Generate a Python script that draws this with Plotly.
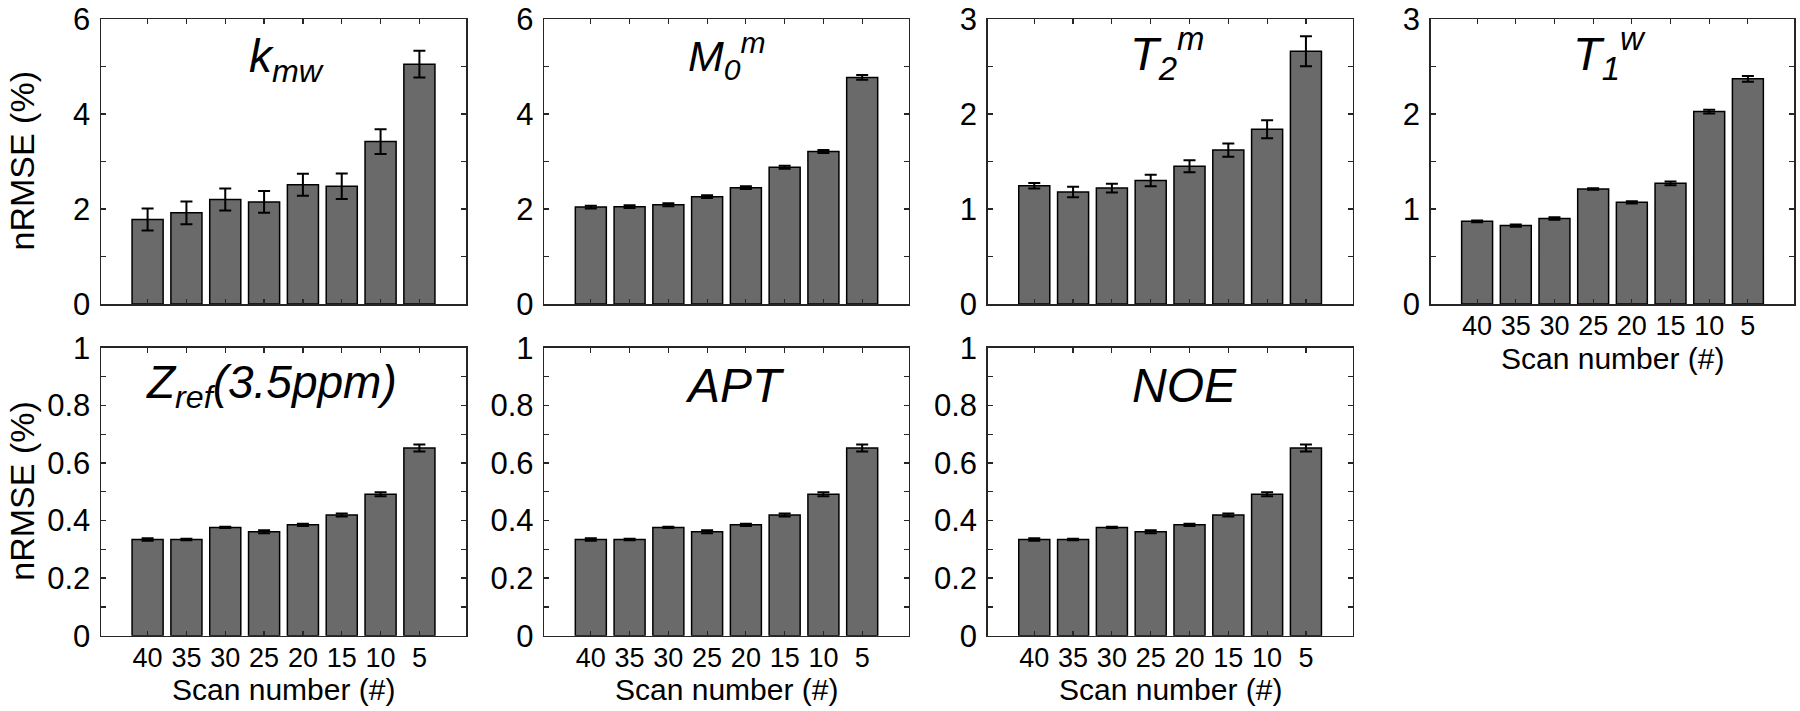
import plotly.graph_objects as go

# ---------------- data ----------------
scan_labels = ["40", "35", "30", "25", "20", "15", "10", "5"]
positions = [1, 2, 3, 4, 5, 6, 7, 8]

kmw = [1.78, 1.92, 2.20, 2.15, 2.51, 2.48, 3.42, 5.05]
kmw_err = [0.23, 0.24, 0.23, 0.23, 0.23, 0.27, 0.26, 0.28]

m0m = [2.04, 2.05, 2.09, 2.26, 2.45, 2.88, 3.21, 4.77]
m0m_err = [0.03, 0.03, 0.03, 0.03, 0.03, 0.03, 0.03, 0.05]

t2m = [1.245, 1.18, 1.22, 1.30, 1.45, 1.62, 1.84, 2.66]
t2m_err = [0.03, 0.055, 0.047, 0.06, 0.062, 0.07, 0.094, 0.158]

t1w = [0.87, 0.826, 0.90, 1.21, 1.07, 1.27, 2.026, 2.37]
t1w_err = [0.01, 0.012, 0.012, 0.008, 0.012, 0.02, 0.02, 0.03]

zref = [0.334, 0.334, 0.376, 0.361, 0.385, 0.419, 0.491, 0.652]
zref_err = [0.004, 0.003, 0.002, 0.005, 0.004, 0.005, 0.007, 0.012]

apt = [0.334, 0.334, 0.376, 0.361, 0.385, 0.419, 0.491, 0.652]
apt_err = [0.004, 0.003, 0.002, 0.005, 0.004, 0.005, 0.007, 0.012]

noe = [0.334, 0.334, 0.376, 0.361, 0.385, 0.419, 0.491, 0.652]
noe_err = [0.004, 0.003, 0.002, 0.005, 0.004, 0.005, 0.007, 0.012]

titles = ["k<sub>mw</sub>", "M<sub>0</sub><sup>m</sup>", "T<sub>2</sub><sup>m</sup>",
          "T<sub>1</sub><sup>w</sup>", "Z<sub>ref</sub>(3.5ppm)", "APT", "NOE"]
y_title = "nRMSE (%)"
x_title = "Scan number (#)"

# ---------------- layout geometry (pixels) ----------------
W, H = 1800, 711
cols = [(101, 466), (544.3, 908.7), (987.7, 1352.5), (1430.7, 1794.3)]
rows = [(19, 304), (347.7, 635.7)]

FONT = "Arial, 'Liberation Sans', Helvetica, sans-serif"
AX = "#262626"

panels = [
    dict(y=kmw, e=kmw_err, col=0, row=0, ymax=6, step=1, lab=2, xlabels=False,
         title=titles[0], tx=286, ty=59, tsize=46),
    dict(y=m0m, e=m0m_err, col=1, row=0, ymax=6, step=1, lab=2, xlabels=False,
         title=titles[1], tx=727, ty=56, tsize=43),
    dict(y=t2m, e=t2m_err, col=2, row=0, ymax=3, step=0.5, lab=1, xlabels=False,
         title=titles[2], tx=1167, ty=53, tsize=47),
    dict(y=t1w, e=t1w_err, col=3, row=0, ymax=3, step=0.5, lab=1, xlabels=True,
         title=titles[3], tx=1609, ty=53, tsize=47),
    dict(y=zref, e=zref_err, col=0, row=1, ymax=1, step=0.1, lab=0.2, xlabels=True,
         title=titles[4], tx=271, ty=385, tsize=46),
    dict(y=apt, e=apt_err, col=1, row=1, ymax=1, step=0.1, lab=0.2, xlabels=True,
         title=titles[5], tx=735, ty=385, tsize=48),
    dict(y=noe, e=noe_err, col=2, row=1, ymax=1, step=0.1, lab=0.2, xlabels=True,
         title=titles[6], tx=1184, ty=385, tsize=48),
]


def fmt(v):
    s = ("%.1f" % v).rstrip("0").rstrip(".")
    return s if s else "0"


fig = go.Figure()
layout = dict(
    width=W, height=H, autosize=False,
    margin=dict(l=0, r=0, t=0, b=0, pad=0, autoexpand=False),
    paper_bgcolor="white", plot_bgcolor="white",
    showlegend=False,
    font=dict(family=FONT, color="black"),
    annotations=[],
)

for i, p in enumerate(panels, start=1):
    sfx = "" if i == 1 else str(i)
    x0, x1 = cols[p["col"]]
    y0, y1 = rows[p["row"]]
    fig.add_trace(go.Bar(
        x=positions, y=p["y"], width=0.8,
        marker=dict(color="#6a6a6a", line=dict(color="black", width=1.5)),
        error_y=dict(type="data", array=p["e"], visible=True,
                     color="black", thickness=2, width=6),
        xaxis="x" + sfx, yaxis="y" + sfx,
        hoverinfo="x+y",
    ))
    n = int(round(p["ymax"] / p["lab"]))
    tv = [round(k * p["lab"], 6) for k in range(n + 1)]
    tt = [fmt(v) for v in tv]
    layout["xaxis" + sfx] = dict(
        domain=[x0 / W, x1 / W], anchor="y" + sfx, automargin=False,
        range=[-0.2, 9.2], tickmode="array", tickvals=positions, ticktext=scan_labels,
        showticklabels=p["xlabels"], ticks="inside", ticklen=5, tickwidth=1.2,
        tickcolor=AX, showline=True, linecolor=AX, linewidth=1.5, mirror="ticks",
        showgrid=False, zeroline=False, tickfont=dict(size=27, family=FONT, color="black"),
        ticklabelstandoff=-3, ticklabeloverflow="allow",
    )
    layout["yaxis" + sfx] = dict(
        domain=[1 - y1 / H, 1 - y0 / H], anchor="x" + sfx, automargin=False,
        range=[0, p["ymax"]], tickmode="array", tickvals=tv, ticktext=tt,
        ticks="inside", ticklen=5, tickwidth=1.2, tickcolor=AX,
        minor=dict(tickmode="linear", tick0=0, dtick=p["step"], ticks="inside",
                   ticklen=5, tickwidth=1.2, tickcolor=AX, showgrid=False),
        showline=True, linecolor=AX, linewidth=1.5, mirror="ticks",
        showgrid=False, zeroline=False, tickfont=dict(size=31, family=FONT, color="black"),
        ticklabelstandoff=3, ticklabeloverflow="allow",
    )
    layout["annotations"].append(dict(
        text="<i>" + p["title"] + "</i>", xref="paper", yref="paper",
        x=p["tx"] / W, y=1 - p["ty"] / H, xanchor="center", yanchor="middle",
        showarrow=False, font=dict(size=p["tsize"], family=FONT, color="black"),
    ))
    if p["col"] == 0:
        layout["annotations"].append(dict(
            text=y_title, xref="paper", yref="paper",
            x=22 / W, y=1 - ((y0 + y1) / 2) / H, xanchor="center", yanchor="middle",
            textangle=-90, showarrow=False, font=dict(size=34, family=FONT, color="black"),
        ))
    if p["xlabels"]:
        layout["annotations"].append(dict(
            text=x_title, xref="paper", yref="paper",
            x=((x0 + x1) / 2) / W, y=1 - (y1 + 54) / H, xanchor="center", yanchor="middle",
            showarrow=False, font=dict(size=30, family=FONT, color="black"),
        ))

fig.update_layout(**layout)
fig.write_html(
    "out.html",
    config={"displayModeBar": False, "staticPlot": True},
    post_script="document.body.style.margin='0px';document.body.style.overflow='hidden';",
)
